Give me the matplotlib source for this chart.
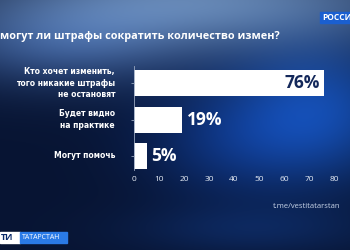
import numpy as np
import matplotlib
matplotlib.use("Agg")
import matplotlib.pyplot as plt

categories = ["Кто хочет изменить,\nтого никакие штрафы\nне остановят",
              "Будет видно\nна практике",
              "Могут помочь"]
values = [76, 19, 5]
value_labels = ["76%", "19%", "5%"]
xticks = [0, 10, 20, 30, 40, 50, 60, 70, 80]
title = "могут ли штрафы сократить количество измен?"
source = "t.me/vestitatarstan"

W, H = 350, 250
fig = plt.figure(figsize=(W / 100, H / 100), dpi=100)

# background gradient
bg = fig.add_axes([0, 0, 1, 1])
yy, xx = np.mgrid[0:H, 0:W]
def blob(cx, cy, sx, sy):
    return np.exp(-(((xx - cx) / sx) ** 2 + ((yy - cy) / sy) ** 2))
base = np.array([0.03, 0.08, 0.20])
img = np.ones((H, W, 3)) * base
layers = [
    (blob(200, 0, 220, 50), np.array([0.42, 0.55, 0.72])),
    (blob(320, 110, 90, 70), np.array([0.08, 0.30, 0.68])),
    (blob(230, 140, 90, 60), np.array([0.05, 0.18, 0.45])),
    (blob(60, 45, 130, 45), np.array([0.18, 0.30, 0.52])),
    (blob(250, 230, 120, 25), np.array([0.05, 0.15, 0.35])),
]
for m, c in layers:
    img = img + m[..., None] * (c - base) * 0.9
img = np.clip(img, 0, 1)
bg.imshow(img, aspect="auto", extent=[0, W, H, 0])
bg.set_xlim(0, W)
bg.set_ylim(H, 0)
bg.axis("off")

font = "Open Sans"

ax = fig.add_axes([134 / W, 1 - 170 / H, 200 / W, 104 / H])
ax.patch.set_alpha(0)
y = np.arange(len(categories))
ax.barh(y, values, height=0.71, color="white")
ax.set_xlim(0, 80)
ax.set_ylim(2.38, -0.47)
ax.set_xticks(xticks)
ax.set_xticklabels([str(t) for t in xticks], color="#e6ecf5", fontsize=6, family=font)
ax.set_yticks(y)
ax.set_yticklabels([])
for s in ["top", "right", "bottom"]:
    ax.spines[s].set_visible(False)
ax.spines["left"].set_color("#9aa8c0")
ax.spines["left"].set_linewidth(0.6)
ax.tick_params(axis="x", length=0, pad=4)
ax.tick_params(axis="y", length=2, color="#9aa8c0", width=0.6)

for i, (v, lab) in enumerate(zip(values, value_labels)):
    if v > 40:
        ax.text(v - 1.5, i, lab, ha="right", va="center", color="#14285a",
                fontsize=12.5, fontweight="bold", family=font)
    else:
        ax.text(v + 2, i, lab, ha="left", va="center", color="white",
                fontsize=12.5, fontweight="bold", family=font)

for i, c in enumerate(categories):
    yc = 1 - (83 + i * 36.5) / H
    fig.text(115 / W, yc, c, ha="right", va="center",
             color="white", fontsize=5.5, fontweight="bold", family="DejaVu Sans",
             linespacing=1.4)

fig.text(0 / W, 1 - 36 / H, title, ha="left", va="center", color="white",
         fontsize=7.8, fontweight="bold", family=font)
fig.text(340 / W, 1 - 207 / H, source, ha="right", va="center", color="#c8d4e8",
         fontsize=5.5, family=font)

# channel logos
fig.patches.append(plt.Rectangle((320 / W, 1 - 23 / H), 30 / W, 11 / H,
                                 transform=fig.transFigure, color="#1a5fd0"))
fig.text(322 / W, 1 - 17.5 / H, "РОССИ", ha="left", va="center", color="white",
         fontsize=6, fontweight="bold", family=font)
fig.patches.append(plt.Rectangle((0, 1 - 243 / H), 20 / W, 11 / H,
                                 transform=fig.transFigure, color="white"))
fig.text(1 / W, 1 - 237.5 / H, "ТИ", ha="left", va="center", color="#0a2a6a",
         fontsize=6.5, fontweight="bold", family=font)
fig.patches.append(plt.Rectangle((20 / W, 1 - 243 / H), 47 / W, 11 / H,
                                 transform=fig.transFigure, color="#2a7ae6"))
fig.text(22 / W, 1 - 237.5 / H, "ТАТАРСТАН", ha="left", va="center", color="white",
         fontsize=5, family=font)

fig.savefig("out.png", dpi=100)
